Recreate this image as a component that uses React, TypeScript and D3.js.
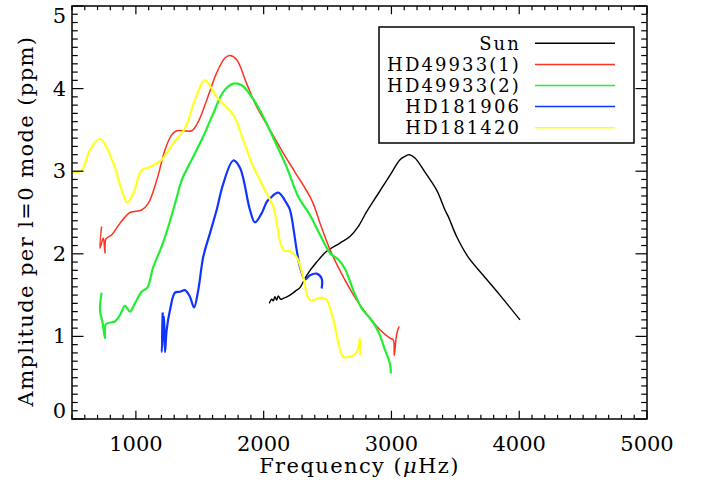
import * as d3 from 'd3';

// frequency (µHz), amplitude per l=0 mode (ppm)
const sunData: [number, number][] = [
  [2044, 1.40], [2063, 1.45], [2075, 1.43], [2088, 1.48], [2102, 1.44], [2114, 1.49],
  [2133, 1.45], [2153, 1.46], [2206, 1.50], [2258, 1.56], [2284, 1.59], [2337, 1.74],
  [2415, 1.90], [2493, 2.03], [2597, 2.13], [2675, 2.21], [2740, 2.33], [2806, 2.51],
  [2897, 2.73], [2988, 2.95], [3067, 3.14], [3106, 3.18], [3139, 3.20], [3184, 3.16],
  [3262, 2.99], [3354, 2.77], [3419, 2.53], [3445, 2.45], [3510, 2.21], [3601, 1.96],
  [3718, 1.74], [3849, 1.50], [4006, 1.20],
];

const hd49933a: [number, number][] = [
  [732, 2.33], [719, 2.07], [745, 2.19], [758, 2.01], [766, 2.18], [811, 2.23],
  [876, 2.37], [954, 2.50], [1045, 2.53], [1097, 2.61], [1163, 2.89], [1228, 3.26],
  [1280, 3.44], [1319, 3.49], [1437, 3.49], [1488, 3.60], [1554, 3.86], [1632, 4.19],
  [1697, 4.37], [1736, 4.40], [1789, 4.35], [1867, 4.06], [1945, 3.78], [2049, 3.50],
  [2153, 3.22], [2245, 2.99], [2376, 2.65], [2441, 2.37], [2519, 2.05], [2623, 1.72],
  [2728, 1.44], [2832, 1.22], [2910, 1.08], [2988, 0.98], [3014, 0.96], [3022, 0.77],
  [3035, 0.96], [3046, 1.06], [3061, 1.12],
];

const hd49933b: [number, number][] = [
  [732, 1.53], [719, 1.32], [740, 1.16], [758, 0.98], [766, 1.15], [836, 1.18],
  [876, 1.26], [915, 1.37], [954, 1.30], [993, 1.40], [1045, 1.54], [1089, 1.59],
  [1136, 1.84], [1202, 2.09], [1254, 2.33], [1314, 2.65], [1358, 2.89], [1437, 3.14],
  [1527, 3.42], [1606, 3.70], [1684, 3.96], [1762, 4.06], [1828, 4.04], [1906, 3.90],
  [1997, 3.66], [2088, 3.36], [2180, 3.05], [2271, 2.69], [2362, 2.47], [2441, 2.23],
  [2519, 2.01], [2584, 1.93], [2636, 1.82], [2701, 1.56], [2767, 1.34], [2832, 1.22],
  [2897, 1.06], [2949, 0.84], [2988, 0.67], [2996, 0.55],
];

const hd181906: [number, number][] = [
  [1210, 1.29], [1202, 0.81], [1220, 1.24], [1228, 0.81], [1241, 1.08], [1267, 1.32],
  [1306, 1.53], [1345, 1.54], [1384, 1.56], [1423, 1.48], [1455, 1.35], [1488, 1.56],
  [1527, 1.96], [1580, 2.25], [1632, 2.53], [1684, 2.85], [1762, 3.13], [1815, 3.04],
  [1893, 2.53], [1932, 2.38], [1984, 2.49], [2024, 2.63], [2049, 2.67], [2114, 2.74],
  [2180, 2.61], [2206, 2.53], [2258, 2.05], [2284, 1.84], [2323, 1.69], [2362, 1.74],
  [2415, 1.76], [2454, 1.70], [2454, 1.58],
];

const hd181420: [number, number][] = [
  [500, 2.99], [576, 3.01], [641, 3.26], [719, 3.39], [823, 3.10], [889, 2.77],
  [933, 2.62], [980, 2.73], [1045, 3.01], [1110, 3.05], [1202, 3.14], [1293, 3.34],
  [1384, 3.52], [1462, 3.86], [1541, 4.10], [1632, 3.90], [1762, 3.68], [1840, 3.38],
  [1906, 3.10], [1997, 2.81], [2075, 2.57], [2153, 2.05], [2206, 2.03], [2258, 1.96],
  [2310, 1.72], [2362, 1.44], [2454, 1.47], [2493, 1.44], [2545, 1.20], [2623, 0.75],
  [2662, 0.75], [2728, 0.81], [2754, 0.98], [2754, 0.77],
];

const xTicks = [1000, 2000, 3000, 4000, 5000];
const yTicks = [0, 1, 2, 3, 4, 5];

const series = [
  { name: 'Sun', color: '#000000', sw: 1.4, data: sunData },
  { name: 'HD49933(1)', color: '#ff3322', sw: 1.5, data: hd49933a },
  { name: 'HD49933(2)', color: '#22ee33', sw: 2.2, data: hd49933b },
  { name: 'HD181906', color: '#1133ff', sw: 2.2, data: hd181906 },
  { name: 'HD181420', color: '#ffff22', sw: 2.2, data: hd181420 },
];

const W = 704, H = 488;
const left = 72, right = 647, top = 6, bottom = 419;
const font = '"DejaVu Serif", serif';

export default function App() {
  const x = d3.scaleLinear().domain([500, 5000]).range([left, right]);
  const y = d3.scaleLinear().domain([0, 5]).range([bottom, top]);
  const line = d3.line<[number, number]>()
    .x(d => x(d[0])).y(d => y(d[1]))
    .curve(d3.curveCatmullRom.alpha(0.5));

  const xMinor = d3.range(500, 5001, 100);
  const yMinor = d3.range(0, 51, 1).map(v => v / 10);
  const xLen = (bottom - top) * 0.02, yLen = (right - left) * 0.02;

  return (
    <svg width={W} height={H} style={{ position: 'absolute', left: 0, top: 0, background: '#fff' }}
      fontFamily={font}>
      <rect width={W} height={H} fill="#fff" />
      {series.map(s => (
        <path key={s.name} d={line(s.data) ?? ''} fill="none" stroke={s.color}
          strokeWidth={s.sw} strokeLinejoin="round" />
      ))}
      {/* axis box */}
      <rect x={left} y={top} width={right - left} height={bottom - top} fill="none" stroke="#000" strokeWidth={1.5} />
      {xMinor.map(v => {
        const major = v % 1000 === 0;
        const l = major ? xLen : xLen / 2;
        return (
          <g key={'xt' + v} stroke="#000" strokeWidth={1.2}>
            <line x1={x(v)} x2={x(v)} y1={bottom} y2={bottom - l} />
            <line x1={x(v)} x2={x(v)} y1={top} y2={top + l} />
          </g>
        );
      })}
      {yMinor.map((v, i) => {
        const major = i % 10 === 0;
        const l = major ? yLen : yLen / 2;
        return (
          <g key={'yt' + i} stroke="#000" strokeWidth={1.2}>
            <line x1={left} x2={left + l} y1={y(v)} y2={y(v)} />
            <line x1={right} x2={right - l} y1={y(v)} y2={y(v)} />
          </g>
        );
      })}
      {xTicks.map(v => (
        <text key={'xl' + v} x={x(v)} y={451} textAnchor="middle" fontSize={21} fill="#000">{v}</text>
      ))}
      {yTicks.map(v => (
        <text key={'yl' + v} x={66} y={Math.min(bottom - 8, Math.max(top + 10, y(v))) + 7}
          textAnchor="end" fontSize={21} fill="#000">{v}</text>
      ))}
      <text x={(left + right) / 2} y={473} textAnchor="middle" fontSize={21} letterSpacing={1.4} fill="#000">
        Frequency (<tspan fontStyle="italic">μ</tspan>Hz)
      </text>
      <text transform={`translate(33,221) rotate(-90)`} textAnchor="middle" fontSize={21} letterSpacing={1.4} fill="#000">
        Amplitude per l=0 mode (ppm)
      </text>
      {/* legend */}
      <rect x={379} y={27} width={255} height={116} fill="#fff" stroke="#000" strokeWidth={1.5} />
      {series.map((s, i) => {
        const cy = 43.3 + i * 21.1;
        return (
          <g key={'lg' + s.name}>
            <text x={521} y={cy + 6.5} textAnchor="end" fontSize={18} letterSpacing={2.1} fill="#000">{s.name}</text>
            <line x1={535} x2={615} y1={cy} y2={cy} stroke={s.color} strokeWidth={1.5} />
          </g>
        );
      })}
    </svg>
  );
}
